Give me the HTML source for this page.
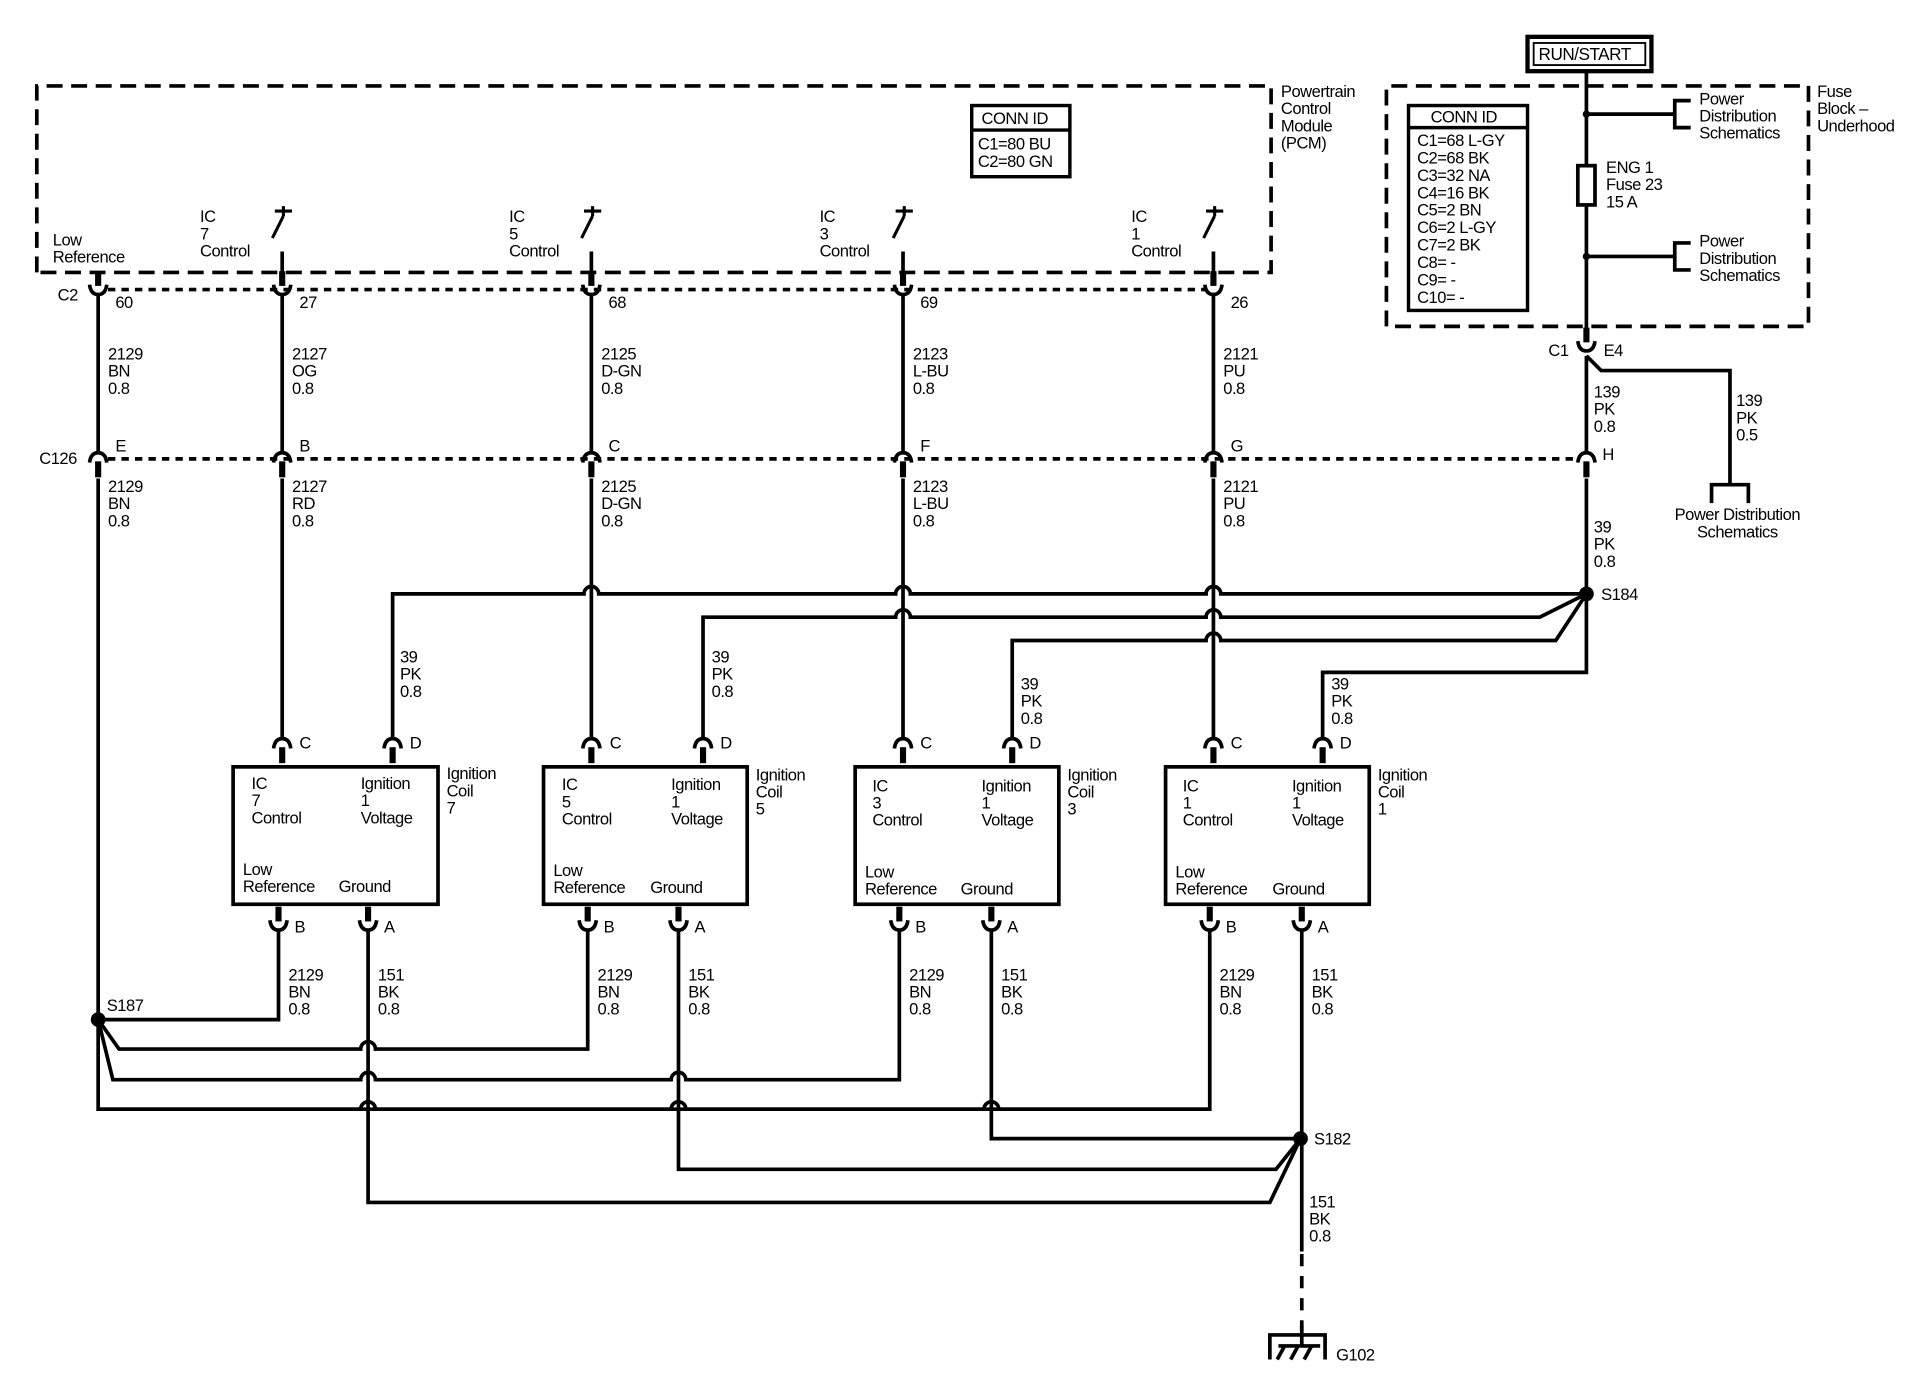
<!DOCTYPE html>
<html><head><meta charset="utf-8"><style>
html,body{margin:0;padding:0;background:#fff;}
svg{display:block;}
text{font-family:"Liberation Sans",sans-serif;font-size:13.5px;fill:#000;letter-spacing:-0.4px;}
</style></head><body>
<svg width="1914" height="1392" viewBox="0 0 1560 1134.5" xmlns="http://www.w3.org/2000/svg">
<defs>
<g id="cup"><rect x="-2.5" y="-15" width="5" height="12" fill="#000"/><path d="M-7,-4 Q-6,4 0,4 Q6,4 7,-4" fill="none" stroke="#000" stroke-width="3"/></g>
<g id="cap"><rect x="-2.5" y="3" width="5" height="13" fill="#000"/><path d="M-7,4 Q-6,-4 0,-4 Q6,-4 7,4" fill="none" stroke="#000" stroke-width="3"/></g>
<g id="sw"><path d="M-6,172 L8,172 M1,168 L1,176 M1,176 L-8,194" fill="none" stroke="#000" stroke-width="2.5"/><circle cx="1" cy="172" r="2"/></g>
</defs>
<g fill="none" stroke="#000" stroke-width="3">
<path d="M30,222 L30,70 L1036,70 L1036,222 L30,222" stroke-dasharray="13,7"/>
<path d="M1130,266 L1130,70 L1474,70 L1474,266 Z" stroke-dasharray="13,7"/>
<path d="M88,236 L982,236" stroke-dasharray="6,5"/>
<path d="M88,374 L1286,374" stroke-dasharray="6,5"/>
<path d="M80,240 V368 M80,390 V904 H986 V758"/>
<path d="M230,205 V222 M230,240 V368 M230,390 V601"/>
<path d="M482,205 V222 M482,240 V368 M482,390 V601"/>
<path d="M736,205 V222 M736,240 V368 M736,390 V601"/>
<path d="M989,205 V222 M989,240 V368 M989,390 V601"/>
<path d="M1293,58 V278 M1293,290 V368 M1293,390 V548 H1078 V601"/>
<path d="M1293,290 L1305,302 H1410 V395 M1395,410 V395 H1425 V410"/>
<path d="M1293,93 H1365 M1378,82 H1365 V104 H1378 M1293,209 H1365 M1378,198 H1365 V220 H1378"/>
<rect x="1286" y="135" width="14" height="32" fill="#fff"/>
<path d="M320,601 V484 H476 A6,6 0 0 1 488,484 H730 A6,6 0 0 1 742,484 H983 A6,6 0 0 1 995,484 H1293"/>
<path d="M573,601 V503 H730 A6,6 0 0 1 742,503 H983 A6,6 0 0 1 995,503 H1255 L1293,484"/>
<path d="M825,601 V522 H983 A6,6 0 0 1 995,522 H1268 L1293,484"/>
<rect x="190" y="625" width="167" height="112"/>
<rect x="443" y="625" width="166" height="112"/>
<rect x="697" y="625" width="166" height="112"/>
<rect x="950" y="625" width="166" height="112"/>
<path d="M227,758 V831 H80"/>
<path d="M80,831 L97,855 H294 A6,6 0 0 1 306,855 H479 V758"/>
<path d="M80,831 L92,880 H294 A6,6 0 0 1 306,880 H547 A6,6 0 0 1 559,880 H733 V758"/>
<path d="M80,904 H294 A6,6 0 0 1 306,904 H547 A6,6 0 0 1 559,904 H802 A6,6 0 0 1 814,904 H986"/>
<path d="M300,758 V980 H1035 L1060,928"/>
<path d="M553,758 V953 H1040 L1060,928"/>
<path d="M808,758 V928 H1060"/>
<path d="M1061,758 V1020"/>
<path d="M1061,1022 V1085" stroke-dasharray="10,8"/>
<path d="M1035,1108 V1088 H1080 V1108 M1061,1080 V1096 M1042,1097 H1076 M1047,1097 L1041,1108 M1058,1097 L1052,1108 M1069,1097 L1063,1108"/>
</g>
<g fill="none" stroke="#000" stroke-width="2.8">
<rect x="792" y="86" width="80" height="58"/><path d="M792,106 H872"/>
<rect x="1148" y="86" width="97" height="167"/><path d="M1148,104 H1245"/>
<rect x="1245" y="30" width="101" height="28" stroke-width="3.5"/>
<rect x="1250" y="35" width="91" height="18" stroke-width="1.5"/>
</g>
<circle cx="80" cy="831" r="6"/><circle cx="1293" cy="484" r="6"/><circle cx="1060" cy="928" r="6"/>
<circle cx="1293" cy="93" r="3"/><circle cx="1293" cy="209" r="3"/>
<use href="#cup" x="80" y="236"/><use href="#cup" x="230" y="236"/><use href="#cup" x="482" y="236"/><use href="#cup" x="736" y="236"/><use href="#cup" x="989" y="236"/><use href="#cup" x="1293" y="282"/>
<use href="#cap" x="80" y="373"/><use href="#cap" x="230" y="373"/><use href="#cap" x="482" y="373"/><use href="#cap" x="736" y="373"/><use href="#cap" x="989" y="373"/><use href="#cap" x="1293" y="373"/>
<use href="#cap" x="230" y="606"/><use href="#cap" x="320" y="606"/><use href="#cap" x="482" y="606"/><use href="#cap" x="573" y="606"/><use href="#cap" x="736" y="606"/><use href="#cap" x="825" y="606"/><use href="#cap" x="989" y="606"/><use href="#cap" x="1078" y="606"/>
<use href="#cup" x="227" y="754"/><use href="#cup" x="300" y="754"/><use href="#cup" x="479" y="754"/><use href="#cup" x="553" y="754"/><use href="#cup" x="733" y="754"/><use href="#cup" x="808" y="754"/><use href="#cup" x="986" y="754"/><use href="#cup" x="1061" y="754"/>
<use href="#sw" x="230" y="0"/><use href="#sw" x="482" y="0"/><use href="#sw" x="736" y="0"/><use href="#sw" x="989" y="0"/>
<text x="1254" y="49" style="font-size:14px">RUN/START</text>
<text x="1044" y="79">Powertrain<tspan x="1044" dy="14">Control</tspan><tspan x="1044" dy="14">Module</tspan><tspan x="1044" dy="14">(PCM)</tspan></text>
<text x="1481" y="79">Fuse<tspan x="1481" dy="14">Block –</tspan><tspan x="1481" dy="14">Underhood</tspan></text>
<text x="800" y="101">CONN ID</text>
<text x="797" y="122">C1=80 BU<tspan x="797" dy="14">C2=80 GN</tspan></text>
<text x="1166" y="100">CONN ID</text>
<text x="1155" y="119">C1=68 L-GY<tspan x="1155" dy="14.2">C2=68 BK</tspan><tspan x="1155" dy="14.2">C3=32 NA</tspan><tspan x="1155" dy="14.2">C4=16 BK</tspan><tspan x="1155" dy="14.2">C5=2 BN</tspan><tspan x="1155" dy="14.2">C6=2 L-GY</tspan><tspan x="1155" dy="14.2">C7=2 BK</tspan><tspan x="1155" dy="14.2">C8= -</tspan><tspan x="1155" dy="14.2">C9= -</tspan><tspan x="1155" dy="14.2">C10= -</tspan></text>
<text x="1385" y="85">Power<tspan x="1385" dy="14">Distribution</tspan><tspan x="1385" dy="14">Schematics</tspan></text>
<text x="1385" y="201">Power<tspan x="1385" dy="14">Distribution</tspan><tspan x="1385" dy="14">Schematics</tspan></text>
<text x="1309" y="141">ENG 1<tspan x="1309" dy="14">Fuse 23</tspan><tspan x="1309" dy="14">15 A</tspan></text>
<text x="43" y="200">Low<tspan x="43" dy="14">Reference</tspan></text>
<text x="163" y="181">IC<tspan x="163" dy="14">7</tspan><tspan x="163" dy="14">Control</tspan></text>
<text x="415" y="181">IC<tspan x="415" dy="14">5</tspan><tspan x="415" dy="14">Control</tspan></text>
<text x="668" y="181">IC<tspan x="668" dy="14">3</tspan><tspan x="668" dy="14">Control</tspan></text>
<text x="922" y="181">IC<tspan x="922" dy="14">1</tspan><tspan x="922" dy="14">Control</tspan></text>
<text x="47" y="245">C2</text>
<text x="94" y="251">60</text><text x="244" y="251">27</text><text x="496" y="251">68</text><text x="750" y="251">69</text><text x="1003" y="251">26</text>
<text x="1262" y="290">C1</text><text x="1307" y="290">E4</text>
<text x="32" y="378">C126</text>
<text x="94" y="368">E</text><text x="244" y="368">B</text><text x="496" y="368">C</text><text x="750" y="368">F</text><text x="1003" y="368">G</text><text x="1306" y="375">H</text>
<text x="88" y="293">2129<tspan x="88" dy="14">BN</tspan><tspan x="88" dy="14">0.8</tspan></text>
<text x="238" y="293">2127<tspan x="238" dy="14">OG</tspan><tspan x="238" dy="14">0.8</tspan></text>
<text x="490" y="293">2125<tspan x="490" dy="14">D-GN</tspan><tspan x="490" dy="14">0.8</tspan></text>
<text x="744" y="293">2123<tspan x="744" dy="14">L-BU</tspan><tspan x="744" dy="14">0.8</tspan></text>
<text x="997" y="293">2121<tspan x="997" dy="14">PU</tspan><tspan x="997" dy="14">0.8</tspan></text>
<text x="88" y="401">2129<tspan x="88" dy="14">BN</tspan><tspan x="88" dy="14">0.8</tspan></text>
<text x="238" y="401">2127<tspan x="238" dy="14">RD</tspan><tspan x="238" dy="14">0.8</tspan></text>
<text x="490" y="401">2125<tspan x="490" dy="14">D-GN</tspan><tspan x="490" dy="14">0.8</tspan></text>
<text x="744" y="401">2123<tspan x="744" dy="14">L-BU</tspan><tspan x="744" dy="14">0.8</tspan></text>
<text x="997" y="401">2121<tspan x="997" dy="14">PU</tspan><tspan x="997" dy="14">0.8</tspan></text>
<text x="1299" y="324">139<tspan x="1299" dy="14">PK</tspan><tspan x="1299" dy="14">0.8</tspan></text>
<text x="1415" y="331">139<tspan x="1415" dy="14">PK</tspan><tspan x="1415" dy="14">0.5</tspan></text>
<text x="1416" y="424" text-anchor="middle">Power Distribution<tspan x="1416" dy="14">Schematics</tspan></text>
<text x="1299" y="434">39<tspan x="1299" dy="14">PK</tspan><tspan x="1299" dy="14">0.8</tspan></text>
<text x="1305" y="489">S184</text>
<text x="326" y="540">39<tspan x="326" dy="14">PK</tspan><tspan x="326" dy="14">0.8</tspan></text>
<text x="580" y="540">39<tspan x="580" dy="14">PK</tspan><tspan x="580" dy="14">0.8</tspan></text>
<text x="832" y="562">39<tspan x="832" dy="14">PK</tspan><tspan x="832" dy="14">0.8</tspan></text>
<text x="1085" y="562">39<tspan x="1085" dy="14">PK</tspan><tspan x="1085" dy="14">0.8</tspan></text>
<text x="244" y="610">C</text><text x="334" y="610">D</text><text x="497" y="610">C</text><text x="587" y="610">D</text><text x="750" y="610">C</text><text x="839" y="610">D</text><text x="1003" y="610">C</text><text x="1092" y="610">D</text>
<text x="240" y="760">B</text><text x="313" y="760">A</text><text x="492" y="760">B</text><text x="566" y="760">A</text><text x="746" y="760">B</text><text x="821" y="760">A</text><text x="999" y="760">B</text><text x="1074" y="760">A</text>
<text x="205" y="643">IC<tspan x="205" dy="14">7</tspan><tspan x="205" dy="14">Control</tspan></text>
<text x="294" y="643">Ignition<tspan x="294" dy="14">1</tspan><tspan x="294" dy="14">Voltage</tspan></text>
<text x="198" y="713">Low<tspan x="198" dy="14">Reference</tspan></text><text x="276" y="727">Ground</text>
<text x="364" y="635">Ignition<tspan x="364" dy="14">Coil</tspan><tspan x="364" dy="14">7</tspan></text>
<text x="458" y="644">IC<tspan x="458" dy="14">5</tspan><tspan x="458" dy="14">Control</tspan></text>
<text x="547" y="644">Ignition<tspan x="547" dy="14">1</tspan><tspan x="547" dy="14">Voltage</tspan></text>
<text x="451" y="714">Low<tspan x="451" dy="14">Reference</tspan></text><text x="530" y="728">Ground</text>
<text x="616" y="636">Ignition<tspan x="616" dy="14">Coil</tspan><tspan x="616" dy="14">5</tspan></text>
<text x="711" y="645">IC<tspan x="711" dy="14">3</tspan><tspan x="711" dy="14">Control</tspan></text>
<text x="800" y="645">Ignition<tspan x="800" dy="14">1</tspan><tspan x="800" dy="14">Voltage</tspan></text>
<text x="705" y="715">Low<tspan x="705" dy="14">Reference</tspan></text><text x="783" y="729">Ground</text>
<text x="870" y="636">Ignition<tspan x="870" dy="14">Coil</tspan><tspan x="870" dy="14">3</tspan></text>
<text x="964" y="645">IC<tspan x="964" dy="14">1</tspan><tspan x="964" dy="14">Control</tspan></text>
<text x="1053" y="645">Ignition<tspan x="1053" dy="14">1</tspan><tspan x="1053" dy="14">Voltage</tspan></text>
<text x="958" y="715">Low<tspan x="958" dy="14">Reference</tspan></text><text x="1037" y="729">Ground</text>
<text x="1123" y="636">Ignition<tspan x="1123" dy="14">Coil</tspan><tspan x="1123" dy="14">1</tspan></text>
<text x="235" y="799">2129<tspan x="235" dy="14">BN</tspan><tspan x="235" dy="14">0.8</tspan></text>
<text x="308" y="799">151<tspan x="308" dy="14">BK</tspan><tspan x="308" dy="14">0.8</tspan></text>
<text x="487" y="799">2129<tspan x="487" dy="14">BN</tspan><tspan x="487" dy="14">0.8</tspan></text>
<text x="561" y="799">151<tspan x="561" dy="14">BK</tspan><tspan x="561" dy="14">0.8</tspan></text>
<text x="741" y="799">2129<tspan x="741" dy="14">BN</tspan><tspan x="741" dy="14">0.8</tspan></text>
<text x="816" y="799">151<tspan x="816" dy="14">BK</tspan><tspan x="816" dy="14">0.8</tspan></text>
<text x="994" y="799">2129<tspan x="994" dy="14">BN</tspan><tspan x="994" dy="14">0.8</tspan></text>
<text x="1069" y="799">151<tspan x="1069" dy="14">BK</tspan><tspan x="1069" dy="14">0.8</tspan></text>
<text x="87" y="824">S187</text>
<text x="1071" y="933">S182</text>
<text x="1067" y="984">151<tspan x="1067" dy="14">BK</tspan><tspan x="1067" dy="14">0.8</tspan></text>
<text x="1089" y="1109">G102</text>
</svg>
</body></html>
